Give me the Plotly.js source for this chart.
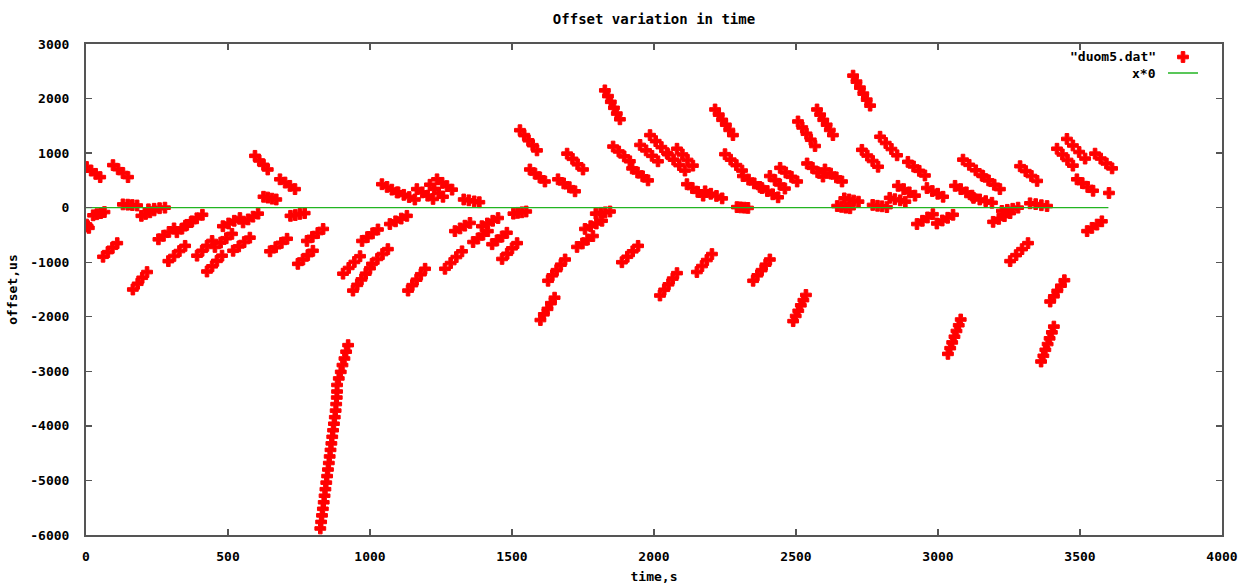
<!DOCTYPE html>
<html>
<head>
<meta charset="utf-8">
<script src="https://cdn.plot.ly/plotly-3.0.1.min.js"></script>
<style>html,body{margin:0;padding:0;background:#fff;}#chart{width:1256px;height:585px;}</style>
</head>
<body>
<div id="chart"></div>
<script>
// Data: time (s) and offset (us) of the "duom5.dat" points
const time = [
  2,6,10,
  2,18,34,50,
  25,38,52,65,
  60,77,93,110,
  95,113,130,148,
  130,147,163,180,
  165,182,198,215,
  195,210,225,240,
  220,240,259,278,
  255,273,292,310,
  290,310,329,349,
  320,338,355,373,
  350,370,390,410,
  391,409,426,444,
  426,444,461,479,
  454,474,494,514,
  482,502,522,542,
  518,538,557,577,
  553,571,588,606,
  595,610,625,640,
  625,640,655,670,
  648,668,688,708,
  683,701,718,736,
  720,737,753,770,
  746,764,781,799,
  778,797,816,835,
  825,828,831,834,837,840,843,846,849,852,855,858,861,864,867,870,873,876,879,881,883,884,
  884,890,897,903,910,916,923,
  905,925,945,965,
  940,955,970,985,1000,
  972,991,1009,1028,
  1007,1026,1044,1063,
  1042,1060,1077,1095,
  1070,1090,1110,1130,
  1099,1119,1138,1158,
  1134,1149,1164,1179,1194,
  1165,1184,1203,1222,
  1211,1226,1242,1257,
  1236,1254,1271,1289,
  1264,1284,1304,1324,
  1299,1317,1334,1352,
  1330,1348,1367,1385,
  1363,1380,1398,1415,
  1394,1413,1432,1451,
  1430,1447,1465,1482,
  1465,1483,1500,1518,
  1505,1520,1535,1550,
  1528,1543,1558,1573,1588,
  1563,1581,1598,1616,
  1600,1612,1625,1637,1650,
  1627,1642,1657,1672,1687,
  1662,1682,1702,1722,
  1694,1713,1731,1750,
  1729,1748,1766,1785,
  1757,1777,1797,1817,
  1795,1812,1828,1845,
  1827,1838,1848,1859,1869,1880,
  1856,1876,1895,1915,
  1887,1906,1925,1944,
  1923,1942,1960,1979,
  1951,1972,1993,2014,
  1986,2006,2026,2046,
  2021,2036,2051,2066,2081,
  2049,2069,2089,2109,
  2081,2100,2118,2137,
  2116,2135,2154,2173,
  2151,2169,2186,2204,
  2180,2200,2220,2240,
  2215,2228,2240,2253,2265,2278,
  2250,2270,2290,2310,
  2292,2305,2318,2331,
  2313,2333,2353,2373,
  2349,2364,2379,2393,2408,
  2380,2399,2418,2437,
  2408,2426,2443,2461,
  2444,2464,2484,2504,
  2490,2499,2508,2517,2526,2535,
  2507,2522,2537,2552,2567,
  2539,2558,2576,2595,
  2574,2585,2596,2608,2619,2630,
  2602,2622,2642,2662,
  2645,2660,2675,2690,
  2670,2687,2703,2720,
  2701,2713,2725,2737,2749,2761,
  2732,2751,2770,2789,
  2770,2787,2803,2820,
  2796,2816,2836,2856,
  2830,2848,2867,2885,
  2859,2879,2899,2919,
  2894,2914,2934,2954,
  2926,2945,2963,2982,
  2961,2980,2999,3018,
  2996,3015,3034,3053,
  3035,3043,3050,3058,3065,3073,3080,
  3060,3080,3100,3120,
  3088,3110,3133,3155,
  3125,3147,3168,3190,
  3158,3178,3198,3218,
  3194,3214,3234,3254,
  3225,3244,3263,3282,
  3254,3275,3296,3317,
  3289,3309,3329,3349,
  3324,3344,3364,3384,
  3363,3371,3378,3386,3393,3401,3408,
  3395,3408,3420,3433,3445,
  3419,3438,3456,3475,
  3454,3475,3497,3518,
  3489,3508,3527,3546,
  3525,3542,3560,3577,
  3553,3573,3593,3613,
  3602
];
const offset = [
  -310,-340,-370,
  745,680,620,560,
  -140,-120,-100,-80,
  -900,-815,-735,-650,
  780,705,635,560,
  60,55,48,40,
  -1500,-1395,-1285,-1180,
  -150,-115,-85,-50,
  -30,-20,-10,0,
  -580,-515,-445,-380,
  -980,-885,-795,-700,
  -450,-385,-315,-250,
  -330,-265,-195,-130,
  -880,-790,-700,-610,
  -1170,-1075,-975,-880,
  -720,-640,-560,-480,
  -340,-290,-240,-190,
  -790,-710,-630,-550,
  -270,-215,-165,-110,
  950,865,785,700,
  200,185,165,150,
  -800,-725,-645,-570,
  520,460,400,340,
  -150,-135,-115,-100,
  -1030,-950,-870,-790,
  -610,-535,-465,-390,
  -5880,-5760,-5640,-5520,-5400,-5280,-5160,-5040,-4920,-4800,-4680,-4560,-4440,-4320,-4200,-4080,-3960,-3840,-3720,-3600,-3480,-3370,
  -3250,-3130,-3010,-2885,-2765,-2640,-2520,
  -1210,-1105,-995,-890,
  -1520,-1415,-1315,-1210,-1110,
  -610,-540,-470,-400,
  -1030,-940,-850,-760,
  430,380,330,280,
  -300,-250,-200,-150,
  280,235,195,150,
  -1520,-1420,-1320,-1220,-1120,
  340,280,220,160,
  420,345,270,200,
  520,455,395,330,
  -1120,-1015,-905,-800,
  -430,-380,-330,-280,
  150,135,115,100,
  -630,-565,-495,-430,
  -340,-290,-240,-190,
  -670,-600,-530,-460,
  -940,-845,-745,-650,
  -110,-95,-85,-70,
  1420,1330,1235,1145,1050,
  700,625,555,480,
  -2060,-1955,-1855,-1750,-1650,
  -1340,-1240,-1145,-1045,-950,
  520,445,375,300,
  990,895,795,700,
  -720,-655,-585,-520,
  -390,-340,-290,-240,
  -110,-95,-85,-70,
  2150,2045,1940,1830,1725,1620,
  1120,1030,940,850,
  -1000,-900,-800,-700,
  720,645,575,500,
  1150,1050,950,850,
  1330,1220,1110,1000,
  -1610,-1505,-1405,-1300,-1200,
  980,880,780,680,
  1080,975,875,770,
  430,360,290,220,
  -1180,-1070,-960,-850,
  300,255,215,170,
  1800,1705,1610,1520,1425,1330,
  980,880,780,680,
  10,5,0,-5,
  580,515,445,380,
  -1340,-1240,-1145,-1045,-950,
  360,305,245,190,
  580,505,425,350,
  730,645,565,480,
  -2080,-1985,-1890,-1790,-1695,-1600,
  1580,1470,1355,1245,1130,
  810,730,650,570,
  1800,1705,1610,1520,1425,1330,
  700,625,555,480,
  30,15,0,-10,
  170,150,130,110,
  2420,2310,2200,2090,1980,1870,
  1060,955,855,750,
  50,35,25,10,
  1300,1185,1075,960,
  180,155,135,110,
  400,340,280,220,
  840,755,675,590,
  -300,-240,-180,-120,
  360,305,255,200,
  -290,-235,-185,-130,
  -2680,-2575,-2470,-2365,-2260,-2155,-2050,
  400,340,280,220,
  880,785,685,590,
  180,150,120,90,
  580,500,420,340,
  -260,-205,-155,-100,
  -60,-40,-20,0,
  -980,-870,-760,-650,
  760,670,580,490,
  80,65,45,30,
  -2820,-2715,-2605,-2500,-2395,-2285,-2180,
  -1720,-1625,-1525,-1430,-1330,
  1080,975,875,770,
  1260,1140,1020,900,
  520,450,380,310,
  -430,-370,-310,-250,
  990,900,810,720,
  269
];
// the x*0 function line
const lineTime = [0, 3600];
const lineValue = [0, 0];

const seriesNames = ['"duom5.dat"', 'x*0'];
const xTicks = [0, 500, 1000, 1500, 2000, 2500, 3000, 3500, 4000];
const yTicks = [-6000, -5000, -4000, -3000, -2000, -1000, 0, 1000, 2000, 3000];

const FONT = 'DejaVu Sans Mono, Liberation Mono, monospace';
const TXT = {family: FONT, size: 13, color: '#000', weight: 'bold'};

const traces = [
  {
    x: time, y: offset, type: 'scatter', mode: 'markers', name: ' ', legend: 'legend',
    marker: {symbol: 'cross', size: 9, color: '#ff0000', line: {color: '#ff0000', width: 1}},
    hoverinfo: 'x+y'
  },
  {
    x: lineTime, y: lineValue, type: 'scatter', mode: 'lines', name: ' ', legend: 'legend2',
    line: {color: '#22b522', width: 1.3}
  }
];

const axisCommon = {
  showline: true, mirror: 'ticks', linecolor: '#555555', linewidth: 2,
  ticks: 'inside', ticklen: 6, tickwidth: 1.3, tickcolor: '#555555',
  showgrid: false, zeroline: false,
  tickfont: TXT
};

const legendCommon = {xanchor: 'left', yanchor: 'middle', bgcolor: 'rgba(0,0,0,0)', borderwidth: 0,
                      font: {family: FONT, size: 10}};

const layout = {
  width: 1256, height: 585,
  paper_bgcolor: '#ffffff', plot_bgcolor: '#ffffff',
  margin: {l: 86, r: 34, t: 44, b: 50},
  title: {text: 'Offset variation in time', font: {family: FONT, size: 14, color: '#000', weight: 'bold'},
          xref: 'paper', x: 0.5, xanchor: 'center', yref: 'container', y: 1 - 19/585, yanchor: 'middle'},
  xaxis: Object.assign({}, axisCommon, {
    range: [0, 4000], tickvals: xTicks, ticktext: xTicks.map(String), ticklabelstandoff: 8,
    title: {text: 'time,s', font: TXT, standoff: 9}
  }),
  yaxis: Object.assign({}, axisCommon, {
    range: [-6000, 3000], tickvals: yTicks, ticktext: yTicks.map(String), ticklabelstandoff: 12,
    title: {text: 'offset,us', font: TXT, standoff: 10}
  }),
  showlegend: true,
  legend: Object.assign({}, legendCommon, {x: (1163 - 86) / 1136, y: (535 - 57) / 491}),
  legend2: Object.assign({}, legendCommon, {x: (1163 - 86) / 1136, y: (535 - 73) / 491}),
  annotations: [
    {text: seriesNames[0], xref: 'paper', yref: 'paper', x: (1158 - 86) / 1136, y: (535 - 57) / 491,
     xanchor: 'right', yanchor: 'middle', showarrow: false, font: TXT},
    {text: seriesNames[1], xref: 'paper', yref: 'paper', x: (1158 - 86) / 1136, y: (535 - 73) / 491,
     xanchor: 'right', yanchor: 'middle', showarrow: false, font: TXT}
  ]
};

Plotly.newPlot('chart', traces, layout, {displayModeBar: false, staticPlot: true});
</script>
</body>
</html>
